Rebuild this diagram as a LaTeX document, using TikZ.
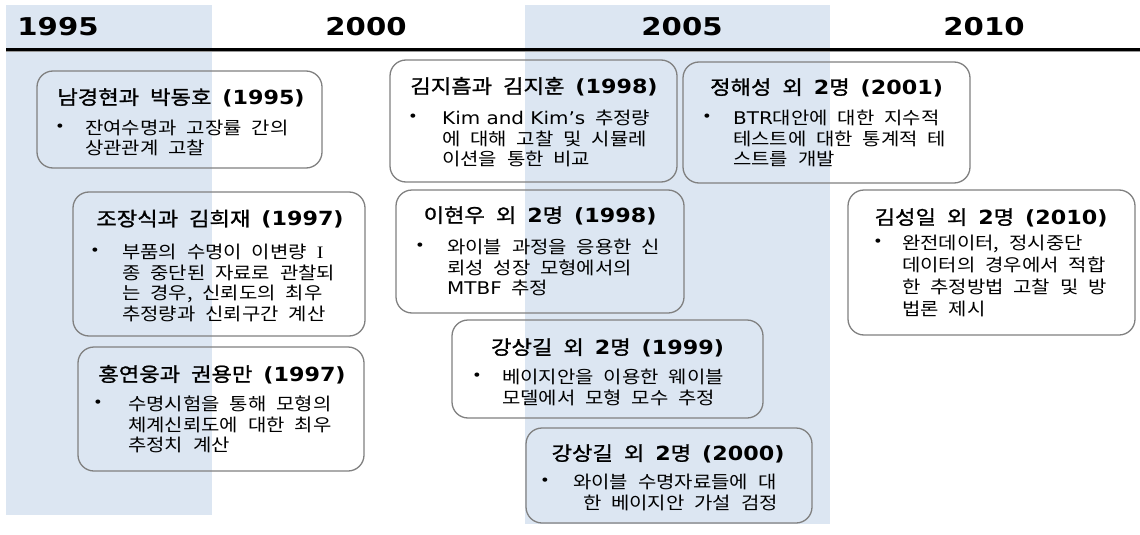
\documentclass[tikz,border=0pt]{standalone}
\usepackage{fontspec}
\setmainfont{Noto Sans CJK KR}[FakeStretch=1.14,WordSpace=2.2]
\newfontfamily\ttlfont{Noto Sans CJK KR}[FakeStretch=1.14,WordSpace=2.2,FakeBold=1.2]
\newfontfamily\latfont{DejaVu Sans}[FakeStretch=1.14]
\newfontfamily\yearfont{DejaVu Sans}[FakeStretch=1.19]
\newfontfamily\srffont{Liberation Serif}[FakeStretch=1.14]
\newcommand\LT[1]{{\latfont #1}}
\newcommand\BD[1]{{\latfont\bfseries #1}}
\newcommand\SR[1]{{\srffont #1}}
\newcommand\fl{\rule{0pt}{17pt}}
\definecolor{bandblue}{RGB}{220,230,242}
\definecolor{edgegray}{RGB}{128,128,128}
\begin{document}
\begin{tikzpicture}[x=1pt,y=-1pt,
  yearlbl/.style={inner sep=0pt, font=\yearfont\bfseries\fontsize{24.5}{29}\selectfont},
  card/.style={draw=edgegray, line width=1.3pt, rounded corners=16pt, inner sep=0pt},
  ttl/.style={inner sep=0pt, anchor=base, font=\ttlfont\fontsize{19.5}{23}\selectfont},
  bul/.style={inner sep=0pt, font=\latfont\fontsize{14.5}{20.5}\selectfont},
  bodytxt/.style={inner sep=0pt, anchor=north west, align=left, font=\fontsize{17.5}{20.5}\selectfont},
]
\useasboundingbox (0,0) rectangle (1140,535);
% bands
\fill[bandblue] (6,5) rectangle (212,515);
\fill[bandblue] (525,5) rectangle (830,524);
% header line
\coordinate (hl) at (6,49.5);
\coordinate (hr) at (1140,49.5);
\draw[line width=2.2pt, black] (hl) -- (hr);
\draw[line width=1.2pt, black!40] ([yshift=-2.4pt]hl) -- ([yshift=-2.4pt]hr);
% years
\node[yearlbl] (y1995) at (58,26.5) {1995};
\node[yearlbl] (y2000) at (366,26.5) {2000};
\node[yearlbl] (y2005) at (682,26.5) {2005};
\node[yearlbl] (y2010) at (984,26.5) {2010};

% box 1
\node[card, minimum width=285pt, minimum height=97pt] (b1) at (179.5,119.5) {};
\node[ttl] (t1) at (181,104.4) {남경현과 박동호 \BD{(1995)}};
\node[bul] (p1) at (60,127.5) {•};
\node[bodytxt] (x1) at (85,117.2) {\fl 잔여수명과 고장률 간의\\상관관계 고찰};

% box 2
\node[card, minimum width=292pt, minimum height=144pt] (b2) at (219,264) {};
\node[ttl] (t2) at (220,225.9) {조장식과 김희재 \BD{(1997)}};
\node[bul] (p2) at (95,252) {•};
\node[bodytxt] (x2) at (122,241.7) {\fl 부품의 수명이 이변량 \SR{I}\\종 중단된 자료로 관찰되\\는 경우, 신뢰도의 최우\\추정량과 신뢰구간 계산};

% box 3
\node[card, minimum width=286pt, minimum height=124pt] (b3) at (221,409) {};
\node[ttl] (t3) at (222,381.4) {홍연웅과 권용만 \BD{(1997)}};
\node[bul] (p3) at (98,404) {•};
\node[bodytxt] (x3) at (128,393.7) {\fl 수명시험을 통해 모형의\\체계신뢰도에 대한 최우\\추정치 계산};

% box 4
\node[card, minimum width=287pt, minimum height=122pt] (b4) at (533.5,121) {};
\node[ttl] (t4) at (534,93.4) {김지흠과 김지훈 \BD{(1998)}};
\node[bul] (p4) at (413,118) {•};
\node[bodytxt] (x4) at (442,107.7) {\fl \LT{Kim and Kim’s} 추정량\\에 대해 고찰 및 시뮬레\\이션을 통한 비교};

% box 5
\node[card, minimum width=287pt, minimum height=121pt] (b5) at (826.5,122.5) {};
\node[ttl] (t5) at (826.5,94.4) {정해성 외 \BD{2}명 \BD{(2001)}};
\node[bul] (p5) at (707,118) {•};
\node[bodytxt] (x5) at (733,107.7) {\fl \LT{BTR}대안에 대한 지수적\\테스트에 대한 통계적 테\\스트를 개발};

% box 6
\node[card, minimum width=288pt, minimum height=123pt] (b6) at (540,251.5) {};
\node[ttl] (t6) at (540,222.4) {이현우 외 \BD{2}명 \BD{(1998)}};
\node[bul] (p6) at (420,247) {•};
\node[bodytxt] (x6) at (447,236.7) {\fl 와이블 과정을 응용한 신\\뢰성 성장 모형에서의\\\LT{MTBF} 추정};

% box 7
\node[card, minimum width=311pt, minimum height=98pt] (b7) at (607.5,369) {};
\node[ttl] (t7) at (607.5,354.4) {강상길 외 \BD{2}명 \BD{(1999)}};
\node[bul] (p7) at (477,377) {•};
\node[bodytxt] (x7) at (502,366.7) {\fl 베이지안을 이용한 웨이블\\모델에서 모형 모수 추정};

% box 8
\node[card, minimum width=286pt, minimum height=95pt] (b8) at (669,475.5) {};
\node[ttl] (t8) at (668,460.4) {강상길 외 \BD{2}명 \BD{(2000)}};
\node[bul] (p8) at (545,482) {•};
\node[bodytxt] (x8) at (573,471.7) {\fl 와이블 수명자료들에 대\\\ 한 베이지안 가설 검정};

% box 9
\node[card, minimum width=287pt, minimum height=145pt] (b9) at (991.5,262.5) {};
\node[ttl] (t9) at (991,224.4) {김성일 외 \BD{2}명 \BD{(2010)}};
\node[bul] (p9) at (878,243) {•};
\node[bodytxt, font=\fontsize{17.5}{22}\selectfont] (x9) at (902,232.7) {\fl 완전데이터, 정시중단\\데이터의 경우에서 적합\\한 추정방법 고찰 및 방\\법론 제시};
\end{tikzpicture}
\end{document}
